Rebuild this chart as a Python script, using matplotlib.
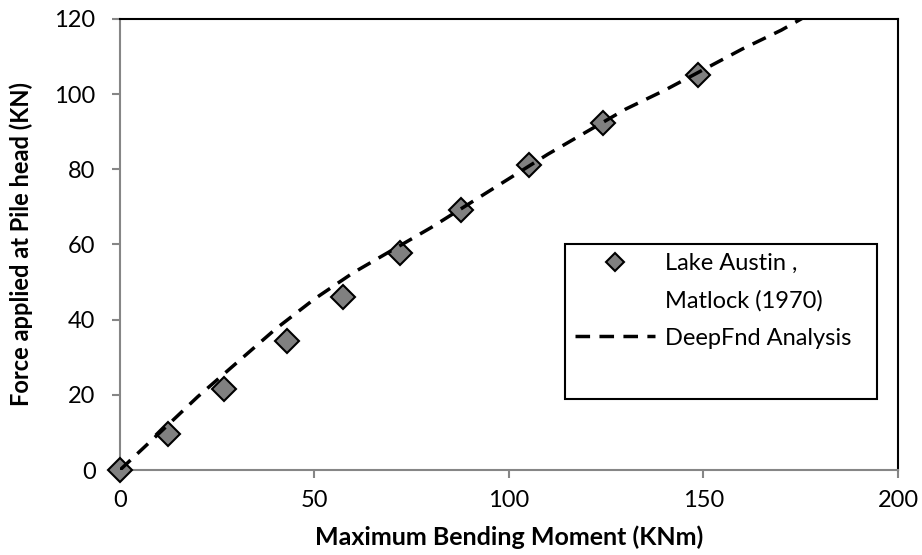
import matplotlib
matplotlib.use("Agg")
import matplotlib.pyplot as plt
from matplotlib.patches import Rectangle
from matplotlib.lines import Line2D

# Measured data: Lake Austin, Matlock (1970)
meas_moment = [0, 12.3, 26.7, 42.9, 57.3, 72.0, 87.7, 105.1, 124.2, 148.6]
meas_force = [0, 9.6, 21.6, 34.3, 46.0, 57.7, 69.2, 81.2, 92.3, 105.1]

# DeepFnd analysis curve
calc_moment = [0, 10, 20, 30, 40, 50, 60, 70, 80, 90, 100, 110, 120, 130, 140, 150, 160, 170, 176]
calc_force = [0, 9.7, 19.5, 28.5, 37.5, 45.5, 52.5, 58.5, 64.5, 71, 77.5, 84, 90, 96, 101, 106.5, 112, 117, 120.5]

xticks = [0, 50, 100, 150, 200]
yticks = [0, 20, 40, 60, 80, 100, 120]

plt.rcParams['font.family'] = ['Lato', 'DejaVu Sans']

fig = plt.figure(figsize=(9.22, 5.55), dpi=100)
ax = fig.add_axes([0.130, 0.153, 0.844, 0.813])

ax.plot(meas_moment, meas_force, linestyle='none', marker='D', markersize=12,
        markerfacecolor='#808080', markeredgecolor='black', markeredgewidth=1.5,
        zorder=3, clip_on=False)
ax.plot(calc_moment, calc_force, linestyle=(0, (4.2, 2.7)), color='black', linewidth=2.5,
        zorder=4)

ax.set_xlim(0, 200)
ax.set_ylim(0, 120)
ax.set_xticks(xticks)
ax.set_yticks(yticks)
ax.tick_params(axis='both', direction='out', length=5.5, width=1.5, color='#868686',
               labelsize=17)
ax.tick_params(axis='x', pad=9)
ax.tick_params(axis='y', pad=12)
for s in ['left', 'bottom']:
    ax.spines[s].set_color('#868686')
    ax.spines[s].set_linewidth(1.5)
for s in ['top', 'right']:
    ax.spines[s].set_color('black')
    ax.spines[s].set_linewidth(1.5)

ax.set_xlabel('Maximum Bending Moment (KNm)', fontsize=18, fontweight='bold')
ax.set_ylabel('Force applied at Pile head (KN)', fontsize=17, fontweight='bold')
ax.xaxis.set_label_coords(0.5, -0.122)
ax.yaxis.set_label_coords(-0.112, 0.5)

# legend box
ax.add_patch(Rectangle((0.572, 0.157), 0.401, 0.344, transform=ax.transAxes,
                       facecolor='white', edgecolor='black', linewidth=1.5, zorder=5))

handles = [
    Line2D([], [], linestyle='none', marker='D', markersize=9.5,
           markerfacecolor='#808080', markeredgecolor='black', markeredgewidth=1.5),
    Line2D([], [], linestyle='none'),
    Line2D([], [], linestyle=(0, (4.2, 2.7)), color='black', linewidth=2.5),
]
labels = ['Lake Austin ,', 'Matlock (1970)', 'DeepFnd Analysis']
leg = ax.legend(handles, labels, loc='upper left', bbox_to_anchor=(0.585, 0.481),
                fontsize=17, frameon=False, handlelength=3.4, handletextpad=0.4,
                borderpad=0, borderaxespad=0, labelspacing=0.68)
leg.set_zorder(6)

fig.savefig('out.png', dpi=100)
